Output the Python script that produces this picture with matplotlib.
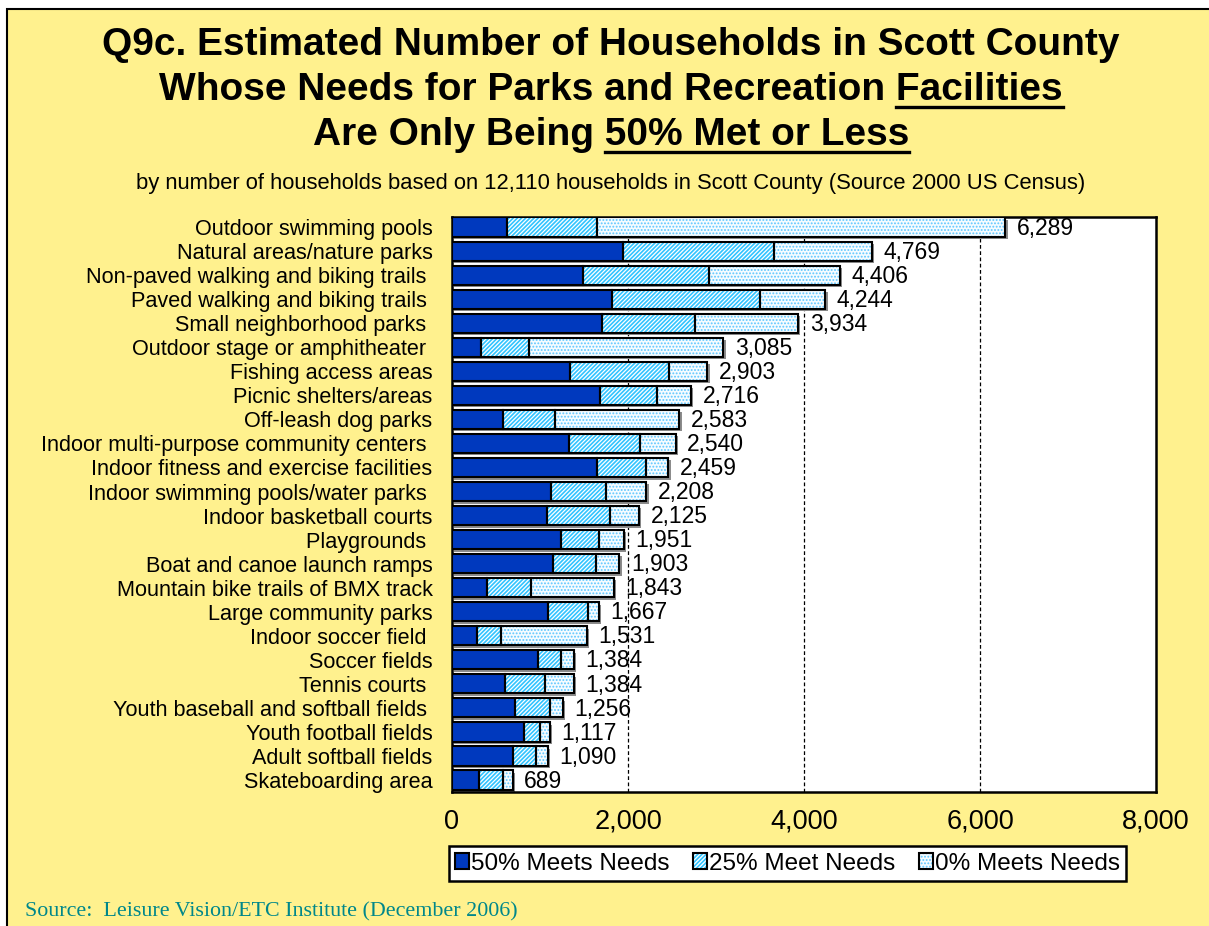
import matplotlib
matplotlib.use("Agg")
import matplotlib.pyplot as plt
from matplotlib.patches import Rectangle, Patch
from matplotlib.legend_handler import HandlerTuple

plt.rcParams['font.family'] = ['Liberation Sans', 'DejaVu Sans']
plt.rcParams['hatch.linewidth'] = 0.9

categories = [
    "Outdoor swimming pools", "Natural areas/nature parks", "Non-paved walking and biking trails ",
    "Paved walking and biking trails ", "Small neighborhood parks ", "Outdoor stage or amphitheater ",
    "Fishing access areas", "Picnic shelters/areas", "Off-leash dog parks",
    "Indoor multi-purpose community centers ", "Indoor fitness and exercise facilities",
    "Indoor swimming pools/water parks ", "Indoor basketball courts", "Playgrounds ",
    "Boat and canoe launch ramps", "Mountain bike trails of BMX track", "Large community parks",
    "Indoor soccer field ", "Soccer fields", "Tennis courts ", "Youth baseball and softball fields ",
    "Youth football fields", "Adult softball fields", "Skateboarding area",
]
meets50 = [624, 1942, 1483, 1822, 1701, 326, 1340, 1679, 582, 1325, 1653, 1125, 1080, 1241,
           1144, 394, 1095, 281, 982, 605, 714, 820, 692, 307]
meets25 = [1029, 1719, 1440, 1673, 1056, 554, 1130, 648, 588, 814, 554, 625, 720, 430,
           497, 508, 456, 275, 253, 452, 396, 180, 263, 275]
meets0 = [4636, 1108, 1483, 749, 1177, 2205, 433, 389, 1413, 401, 252, 458, 325, 280,
          262, 941, 116, 975, 149, 327, 146, 117, 135, 107]
totals = [6289, 4769, 4406, 4244, 3934, 3085, 2903, 2716, 2583, 2540, 2459, 2208, 2125, 1951,
          1903, 1843, 1667, 1531, 1384, 1384, 1256, 1117, 1090, 689]
series_names = ["50% Meets Needs", "25% Meet Needs", "0% Meets Needs"]
xticks = [0, 2000, 4000, 6000, 8000]

W, H = 1209, 926
fig = plt.figure(figsize=(W / 100, H / 100), dpi=100)
fig.patch.set_facecolor('white')
# yellow chart area with black border
fig.patches.append(Rectangle((7 / W, -0.01), 1.02, 1 - 9 / H + 0.01, transform=fig.transFigure,
                             facecolor='#FFF18E', edgecolor='black', linewidth=1.5, zorder=-5))

ax = fig.add_axes([452 / W, 1 - 792 / H, (1156 - 452) / W, (792 - 217) / H])
ax.set_facecolor('white')

dark = '#0039BE'
light = '#33C4FF'
pale = '#F6FCFF'
dotc = '#5CC6FF'

y = list(range(len(categories)))
h = 0.80
# shadows
ax.barh([v + 0.1 for v in y], totals, height=h, left=25, color='#8C8C8C', linewidth=0, zorder=2)

styles = [
    dict(color=dark, hatch=None, hcolor=None),
    dict(color=light, hatch='////////', hcolor='white'),
    dict(color=pale, hatch='.....', hcolor=dotc),
]
left = [0] * len(y)
for vals, st in zip([meets50, meets25, meets0], styles):
    if st['hatch']:
        ax.barh(y, vals, height=h, left=left, facecolor=st['color'], edgecolor=st['hcolor'],
                hatch=st['hatch'], linewidth=0, zorder=3)
    else:
        ax.barh(y, vals, height=h, left=left, facecolor=st['color'], linewidth=0, zorder=3)
    ax.barh(y, vals, height=h, left=left, facecolor='none', edgecolor='black', linewidth=1.5, zorder=4)
    left = [a + b for a, b in zip(left, vals)]

for yi, t in zip(y, totals):
    ax.text(t + 130, yi + 0.05, f"{t:,}", va='center', ha='left', fontsize=16.5, color='black', zorder=5)

for xv in xticks[1:-1]:
    ax.axvline(xv, color='black', linestyle=(0, (3, 2)), linewidth=0.9, zorder=1)

ax.set_xlim(0, 8000)
ax.set_ylim(23.5, -0.42)
ax.set_yticks(y)
ax.set_yticklabels(categories, fontsize=15.6)
ax.set_xticks(xticks)
ax.set_xticklabels([f"{v:,}" for v in xticks], fontsize=19.5)
ax.tick_params(axis='both', length=0)
ax.tick_params(axis='y', pad=14)
ax.tick_params(axis='x', pad=12)
for s in ax.spines.values():
    s.set_color('black')
    s.set_linewidth(1.8)

# legend
def fillp(st):
    if st['hatch']:
        return Patch(facecolor=st['color'], edgecolor=st['hcolor'], hatch=st['hatch'], linewidth=0)
    return Patch(facecolor=st['color'], linewidth=0)

handles = [(fillp(st), Patch(facecolor='none', edgecolor='black', linewidth=1.5)) for st in styles]
leg = fig.legend(handles, series_names, handler_map={tuple: HandlerTuple(ndivide=1)},
                 loc='center', bbox_to_anchor=((447 + 1128) / 2 / W, 1 - 863.5 / H),
                 ncol=3, fontsize=17.5, frameon=True, fancybox=False, edgecolor='black',
                 framealpha=1, handlelength=0.6, handleheight=0.6, handletextpad=0.08,
                 columnspacing=0.95, borderpad=0.25, borderaxespad=0)
leg.get_frame().set_linewidth(1.8)
leg.get_frame().set_facecolor('white')

# titles
title_lines = [
    ("Q9c. Estimated Number of Households in Scott County", None),
    ("Whose Needs for Parks and Recreation Facilities", "Facilities"),
    ("Are Only Being 50% Met or Less", "50% Met or Less"),
]
ycent = [45, 90, 135]
fig.canvas.draw()
renderer = fig.canvas.get_renderer()
cx = 611 / W
TFS = 28
for (line, ul), yc in zip(title_lines, ycent):
    t = fig.text(cx, 1 - yc / H, line, ha='center', va='center', fontsize=TFS, fontweight='bold')
    if ul:
        bb = t.get_window_extent(renderer)
        tmp = fig.text(0, 0, ul, fontsize=TFS, fontweight='bold')
        ub = tmp.get_window_extent(renderer)
        tmp.remove()
        x1 = bb.x1
        x0 = bb.x1 - ub.width
        yl = bb.y0 + 1
        fig.add_artist(plt.Line2D([x0 / W, x1 / W], [yl / H, yl / H], transform=fig.transFigure,
                                  color='black', linewidth=2.4))

fig.text(cx, 1 - 183 / H,
         "by number of households based on 12,110 households in Scott County (Source 2000 US Census)",
         ha='center', va='center', fontsize=15.8)
fig.text(25 / W, 1 - 912 / H, "Source:  Leisure Vision/ETC Institute (December 2006)",
         ha='left', va='center', fontsize=15.8, color='#00878A', family=['Liberation Serif', 'DejaVu Serif'])

fig.savefig('out.png', dpi=100)
